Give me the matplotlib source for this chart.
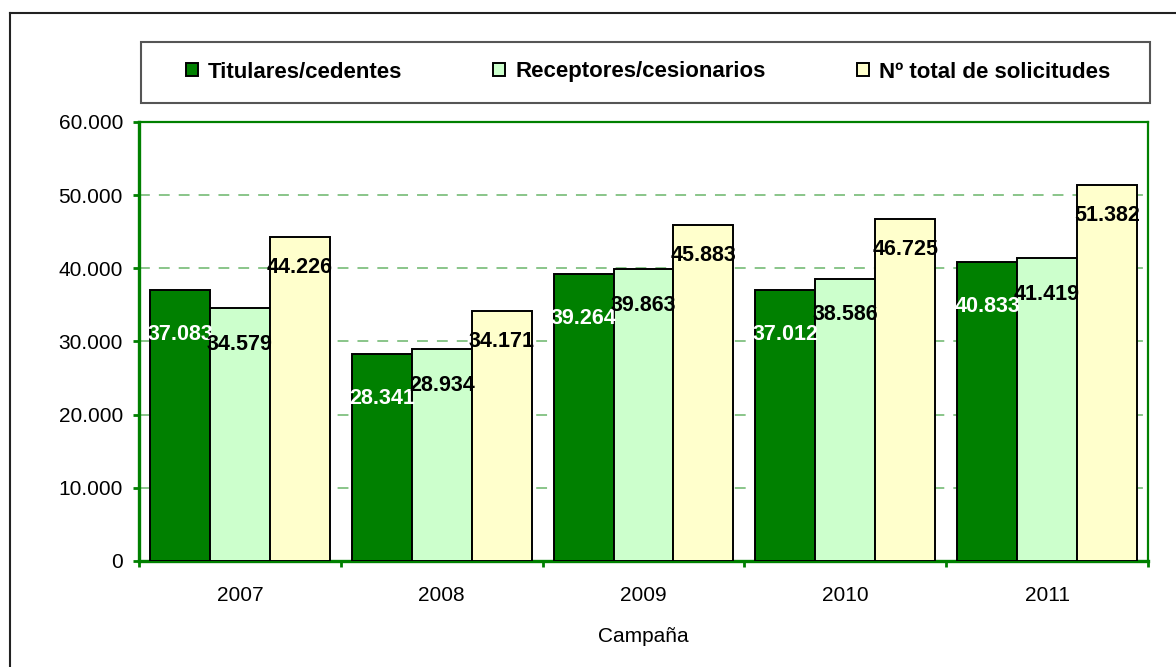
import numpy as np
import matplotlib
matplotlib.use("Agg")
import matplotlib.pyplot as plt
from matplotlib.ticker import FuncFormatter, FixedLocator
from matplotlib.patches import Rectangle, Patch
from matplotlib.lines import Line2D

plt.rcParams["font.family"] = ["Liberation Sans", "DejaVu Sans"]

# --- data ---
years = ["2007", "2008", "2009", "2010", "2011"]
titulares = [37083, 28341, 39264, 37012, 40833]
receptores = [34579, 28934, 39863, 38586, 41419]
total_solicitudes = [44226, 34171, 45883, 46725, 51382]
series_names = ["Titulares/cedentes", "Receptores/cesionarios", "Nº total de solicitudes"]

GREEN = "#008000"
colors = [GREEN, "#CCFFCC", "#FFFFCC"]
label_colors = ["white", "black", "black"]
label_drop = [-32, -26, -22]   # points below bar top

fig = plt.figure(figsize=(11.76, 6.67), dpi=100)
ax = fig.add_axes([139 / 1176, 1 - 561 / 667, (1148 - 139) / 1176, (561 - 122) / 667])

x = np.arange(len(years))
w = 0.297
for k, vals in enumerate([titulares, receptores, total_solicitudes]):
    bars = ax.bar(x + (k - 1) * w, vals, w, color=colors[k], edgecolor="black",
                  linewidth=1.4, zorder=3)
    for b, v in zip(bars, vals):
        ax.annotate(f"{v/1000:.3f}", (b.get_x() + b.get_width() / 2, v),
                    xytext=(0, label_drop[k]), textcoords="offset points",
                    ha="center", va="center", fontsize=15.5, fontweight="bold",
                    color=label_colors[k], zorder=5)

ax.set_xlim(-0.5, len(years) - 0.5)
ax.set_ylim(0, 60000)
ax.yaxis.set_major_locator(FixedLocator(np.arange(0, 60001, 10000)))
ax.yaxis.set_major_formatter(FuncFormatter(lambda v, p: f"{int(v):,}".replace(",", ".")))
ax.set_xticks(x)
ax.set_xticklabels(years)
ax.set_xticks(np.arange(-0.5, len(years)), minor=True)
ax.tick_params(axis="x", which="major", length=0, labelsize=15, pad=18)
ax.tick_params(axis="x", which="minor", length=4.5, width=2, color=GREEN, direction="out")
ax.tick_params(axis="y", length=4.5, width=2, color=GREEN, labelsize=15, pad=7)
ax.set_xlabel("Campaña", fontsize=15, labelpad=16)

for y in range(10000, 60000, 10000):
    ax.axhline(y, color="#80C080", lw=1.3, ls=(0, (6, 5)), zorder=1)

for side in ["left", "bottom"]:
    ax.spines[side].set_color(GREEN)
    ax.spines[side].set_linewidth(2.4)
for side in ["top", "right"]:
    ax.spines[side].set_color(GREEN)
    ax.spines[side].set_linewidth(1.6)

# outer chart frame (cut off at right and bottom in the original)
fig.add_artist(Line2D([10 / 1176, 10 / 1176], [0, 1 - 13 / 667], color="#222222", lw=1.5))
fig.add_artist(Line2D([10 / 1176, 1], [1 - 13 / 667, 1 - 13 / 667], color="#222222", lw=1.5))

# legend box
fig.add_artist(Rectangle((141 / 1176, 1 - 103 / 667), (1150 - 141) / 1176, 61 / 667,
                         transform=fig.transFigure, facecolor="white",
                         edgecolor="#555555", lw=1.5))
handles = [Patch(facecolor=c, edgecolor="black", lw=1.4) for c in colors]
fig.legend(handles, series_names, loc="center", bbox_to_anchor=(648 / 1176, 1 - 72 / 667),
           ncol=3, frameon=False, prop={"weight": "bold", "size": 16},
           handlelength=0.55, handleheight=0.55, handletextpad=0.45, columnspacing=4.1)

fig.savefig("out.png", dpi=100)
